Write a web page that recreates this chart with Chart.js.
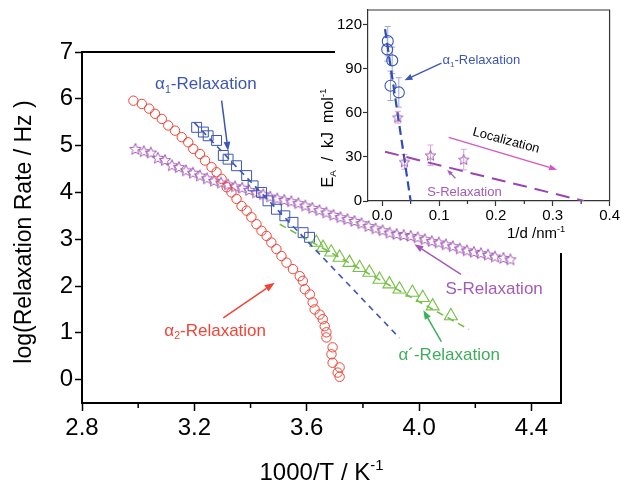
<!DOCTYPE html>
<html><head><meta charset="utf-8">
<script src="https://cdn.jsdelivr.net/npm/chart.js@4/dist/chart.umd.min.js"></script>
<style>
html,body{margin:0;padding:0;background:#fff;}
#wrap{position:relative;width:621px;height:484px;overflow:hidden;}
canvas{position:absolute;left:0;top:0;}
</style></head><body>
<div id="wrap"><canvas id="main" width="621" height="484" style="width:621px;height:484px"></canvas><canvas id="inset" width="621" height="253" style="width:621px;height:253px"></canvas></div>
<script>
// ---------------- main chart data ----------------
const mainXTicks = [2.8, 3.2, 3.6, 4.0, 4.4];
const mainXMinor = [3.0, 3.4, 3.8, 4.2];
const mainYTicks = [0, 1, 2, 3, 4, 5, 6, 7];

// alpha2-relaxation (red circles)
const alpha2X = [2.983,3.013,3.039,3.060,3.084,3.107,3.131,3.155,3.178,3.196,3.220,3.238,3.261,3.279,3.297,3.315,3.332,3.350,3.368,3.386,3.403,3.421,3.439,3.457,3.474,3.492,3.510,3.528,3.551,3.575,3.586,3.593,3.611,3.621,3.628,3.646,3.657,3.664,3.670,3.670,3.692,3.688,3.692,3.717,3.710,3.717];
const alpha2Y = [5.96,5.89,5.79,5.68,5.57,5.43,5.32,5.18,5.07,4.93,4.82,4.68,4.54,4.43,4.29,4.11,4.00,3.86,3.71,3.61,3.47,3.32,3.18,3.07,2.93,2.79,2.64,2.50,2.36,2.21,2.11,1.93,1.82,1.65,1.50,1.39,1.29,1.14,1.01,0.90,0.69,0.54,0.36,0.26,0.15,0.06];

// alpha1-relaxation (blue squares)
const alpha1X = [3.208,3.232,3.249,3.279,3.303,3.320,3.350,3.386,3.409,3.439,3.462,3.492,3.522,3.551,3.587,3.610];
const alpha1Y = [5.39,5.29,5.21,5.11,4.79,4.71,4.57,4.36,4.14,4.00,3.82,3.64,3.50,3.36,3.14,3.04];

// S-relaxation (purple stars)
const sRelaxX = [2.99,3.02,3.045,3.07,3.095,3.12,3.145,3.17,3.195,3.22,3.245,3.27,3.295,3.32,3.345,3.37,3.395,3.42,3.445,3.47,3.495,3.52,3.545,3.57,3.595,3.62,3.645,3.67,3.695,3.72,3.745,3.77,3.795,3.82,3.845,3.87,3.895,3.92,3.945,3.97,3.995,4.02,4.045,4.07,4.095,4.12,4.145,4.17,4.195,4.22,4.245,4.27,4.30,4.325];
const sRelaxY = [4.93,4.88,4.85,4.74,4.69,4.58,4.54,4.47,4.42,4.36,4.30,4.25,4.21,4.17,4.13,4.10,4.05,4.00,3.96,3.91,3.87,3.84,3.81,3.77,3.72,3.67,3.62,3.57,3.52,3.47,3.43,3.39,3.34,3.28,3.23,3.19,3.14,3.11,3.09,3.07,3.04,3.00,2.96,2.93,2.89,2.85,2.80,2.76,2.73,2.70,2.67,2.63,2.60,2.57];

// alpha'-relaxation (green triangles)
const alphaPX = [3.634,3.658,3.687,3.717,3.752,3.788,3.823,3.859,3.894,3.930,3.976,4.013,4.048,4.113];
const alphaPY = [2.93,2.82,2.72,2.61,2.50,2.39,2.29,2.14,2.04,1.93,1.86,1.75,1.57,1.36];

// fitted dashed lines
const alpha1FitX = [3.20, 3.93];
const alpha1FitY = [5.49, 0.89];
const alphaPFitX = [3.504, 4.178];
const alphaPFitY = [3.32, 1.07];

// ---------------- inset data ----------------
const insetXTicks = [0.0, 0.1, 0.2, 0.3, 0.4];
const insetXMinor = [0.05, 0.15, 0.25, 0.35];
const insetYTicks = [0, 30, 60, 90, 120];
const eaAlpha1D = [0.0098, 0.0088, 0.0176, 0.0146, 0.0292];
const eaAlpha1 = [108.8, 103.2, 95.7, 78.4, 73.9];
const eaAlpha1Err = [10, 8, 9, 10, 10];
const eaSD = [0.0274, 0.0392, 0.0849, 0.1434];
const eaS = [57.0, 26.6, 31.1, 28.2];
const eaSErr = [4, 5, 7, 7];
const eaAlpha1FitD = [0.005, 0.050];
const eaAlpha1FitE = [117, 0];
const eaSFitD = [0.005, 0.355];
const eaSFitE = [33.5, 0];

// ---------------- styling ----------------
const FONT = "'Liberation Sans', Arial, sans-serif";
const RED = '#ef4437', BLUE = '#3c56b4', PURPLE = '#a35ab6', GREEN = '#76c045', GREEN_T = '#3fae5c', MAGENTA = '#d456c2';

function xy(xs, ys){ return xs.map((x,i)=>({x:x, y:ys[i]})); }

function makeStar(size, color, lw, ratio){
  const c = document.createElement('canvas'); c.width = size; c.height = size;
  const g = c.getContext('2d');
  const R = size/2 - lw, r = R*ratio, cx = size/2, cy = size/2 + R*0.08;
  g.beginPath();
  for (let i=0;i<10;i++){ const a = -Math.PI/2 + i*Math.PI/5; const rr = (i%2)? r : R; g.lineTo(cx+rr*Math.cos(a), cy+rr*Math.sin(a)); }
  g.closePath(); g.strokeStyle = color; g.lineWidth = lw; g.lineJoin='miter'; g.stroke();
  return c;
}

function rich(ctx, parts, x, y, size, color, align){
  ctx.save(); ctx.fillStyle = color; ctx.textBaseline = 'alphabetic';
  let w = 0;
  const m = parts.map(p=>{ const fs = p.s ? size*0.62 : size; ctx.font = fs+'px '+FONT; const mw = ctx.measureText(p.t).width; w += mw; return {p:p, fs:fs, mw:mw}; });
  let cx = align === 'center' ? x - w/2 : (align === 'right' ? x - w : x);
  const base = y + size*0.36;
  m.forEach(q=>{ ctx.font = q.fs+'px '+FONT; let dy = 0; if (q.p.s==='sub') dy = size*0.22; if (q.p.s==='sup') dy = -size*0.40; ctx.fillText(q.p.t, cx, base+dy); cx += q.mw; });
  ctx.restore();
}

function arrow(ctx, x1, y1, x2, y2, color, w, head){
  ctx.save(); ctx.strokeStyle = color; ctx.fillStyle = color; ctx.lineWidth = w;
  const a = Math.atan2(y2-y1, x2-x1);
  const bx = x2 - head*Math.cos(a), by = y2 - head*Math.sin(a);
  ctx.beginPath(); ctx.moveTo(x1,y1); ctx.lineTo(bx,by); ctx.stroke();
  const hw = head*0.38;
  ctx.beginPath(); ctx.moveTo(x2,y2);
  ctx.lineTo(bx + hw*Math.sin(a), by - hw*Math.cos(a));
  ctx.lineTo(bx - hw*Math.sin(a), by + hw*Math.cos(a));
  ctx.closePath(); ctx.fill(); ctx.restore();
}

// ---------------- main chart ----------------
const mainPlugin = {
  id: 'mainDeco',
  afterDraw(chart){
    const ctx = chart.ctx, xs = chart.scales.x, ys = chart.scales.y, a = chart.chartArea;
    const X = v => xs.getPixelForValue(v), Y = v => ys.getPixelForValue(v);
    ctx.save();
    // partial frame (top and right, interrupted by inset)
    ctx.strokeStyle = '#000'; ctx.lineWidth = 2;
    ctx.beginPath(); ctx.moveTo(a.left-1, a.top); ctx.lineTo(335, a.top); ctx.stroke();
    ctx.beginPath(); ctx.moveTo(a.right, 253); ctx.lineTo(a.right, a.bottom+1); ctx.stroke();
    // minor ticks
    ctx.lineWidth = 1.5;
    mainXMinor.forEach(v=>{ ctx.beginPath(); ctx.moveTo(X(v), a.bottom); ctx.lineTo(X(v), a.bottom+5); ctx.stroke(); });
    ctx.restore();
    // axis titles
    rich(ctx, [{t:'1000/T / K'},{t:'-1', s:'sup'}], (a.left+a.right)/2, 471, 24, '#000', 'center');
    ctx.save(); ctx.translate(23, 232); ctx.rotate(-Math.PI/2);
    rich(ctx, [{t:'log(Relaxation Rate / Hz )'}], 0, 0, 23, '#000', 'center');
    ctx.restore();
    // annotations
    rich(ctx, [{t:'\u03B1'},{t:'1', s:'sub'},{t:'-Relaxation'}], X(3.241), Y(6.34), 17, BLUE, 'center');
    arrow(ctx, X(3.297), Y(5.96), X(3.320), Y(4.89), BLUE, 1.5, 9);
    rich(ctx, [{t:'S-Relaxation'}], X(4.267), Y(1.95), 17, PURPLE, 'center');
    arrow(ctx, X(4.149), Y(2.25), X(3.983), Y(2.893), PURPLE, 1.5, 9);
    rich(ctx, [{t:'\u03B1\u00B4-Relaxation'}], X(4.107), Y(0.54), 17, GREEN_T, 'center');
    arrow(ctx, X(4.079), Y(0.81), X(4.015), Y(1.48), GREEN_T, 1.5, 9);
    rich(ctx, [{t:'\u03B1'},{t:'2', s:'sub'},{t:'-Relaxation'}], X(3.274), Y(1.07), 17, RED, 'center');
    arrow(ctx, X(3.303), Y(1.32), X(3.486), Y(2.07), RED, 1.5, 10);
  }
};

const starMain = makeStar(14, PURPLE, 1, 0.45);
const starInset = makeStar(13, PURPLE, 1, 0.45);

new Chart(document.getElementById('main'), {
  type: 'scatter',
  data: { datasets: [
    { data: xy(alpha1FitX, alpha1FitY), showLine:true, borderColor:BLUE, borderWidth:1.6, borderDash:[6,5], pointRadius:0, fill:false },
    { data: xy(alphaPFitX, alphaPFitY), showLine:true, borderColor:GREEN, borderWidth:1.6, borderDash:[7,5], pointRadius:0, fill:false },
    { data: xy(alpha2X, alpha2Y), pointStyle:'circle', pointRadius:4.7, borderColor:RED, backgroundColor:'rgba(0,0,0,0)', borderWidth:1 },
    { data: xy(alpha1X, alpha1Y), pointStyle:'rect', pointRadius:7, borderColor:BLUE, backgroundColor:'rgba(0,0,0,0)', borderWidth:1 },
    { data: xy(sRelaxX, sRelaxY), pointStyle:starMain, pointRadius:6, borderColor:PURPLE, backgroundColor:'rgba(0,0,0,0)' },
    { data: xy(alphaPX, alphaPY), pointStyle:'triangle', pointRadius:7.5, borderColor:GREEN, backgroundColor:'rgba(0,0,0,0)', borderWidth:1.1 }
  ]},
  options: {
    responsive:false, animation:false, devicePixelRatio:1, events:[],
    layout:{ padding:{ left:0, top:52, right:60, bottom:0 } },
    plugins:{ legend:{display:false}, tooltip:{enabled:false} },
    scales:{
      x:{ type:'linear', min:2.8, max:4.505,
        afterFit(s){ s.height = 81; },
        afterBuildTicks(s){ s.ticks = mainXTicks.map(v=>({value:v})); },
        ticks:{ font:{size:24, family:FONT}, color:'#000', padding:3, maxRotation:0, autoSkip:false, callback:v=>Number(v).toFixed(1) },
        grid:{ drawOnChartArea:false, drawTicks:true, tickLength:8, tickColor:'#000', tickWidth:1.5 },
        border:{ display:true, color:'#000', width:2 } },
      y:{ type:'linear', min:-0.5, max:7,
        afterFit(s){ s.width = 82; },
        afterBuildTicks(s){ s.ticks = mainYTicks.map(v=>({value:v})); },
        ticks:{ font:{size:24, family:FONT}, color:'#000', padding:2, autoSkip:false, callback:v=>String(v) },
        grid:{ drawOnChartArea:false, drawTicks:true, tickLength:7, tickColor:'#000', tickWidth:1.5 },
        border:{ display:true, color:'#000', width:2 } }
    }
  },
  plugins:[mainPlugin]
});

// ---------------- inset chart ----------------
const insetPlugin = {
  id: 'insetDeco',
  beforeDatasetsDraw(chart){
    const ctx = chart.ctx, xs = chart.scales.x, ys = chart.scales.y;
    const X = v => xs.getPixelForValue(v), Y = v => ys.getPixelForValue(v);
    ctx.save(); ctx.lineWidth = 1;
    const bars = (dx, ey, er, col) => { ctx.strokeStyle = col; dx.forEach((d,i)=>{ const px = X(d), t = Y(ey[i]+er[i]), b = Y(ey[i]-er[i]);
      ctx.beginPath(); ctx.moveTo(px,t); ctx.lineTo(px,b); ctx.moveTo(px-3,t); ctx.lineTo(px+3,t); ctx.moveTo(px-3,b); ctx.lineTo(px+3,b); ctx.stroke(); }); };
    bars(eaAlpha1D, eaAlpha1, eaAlpha1Err, '#9ea8d8');
    bars(eaSD, eaS, eaSErr, '#d7a6d6');
    ctx.restore();
  },
  afterDraw(chart){
    const ctx = chart.ctx, xs = chart.scales.x, ys = chart.scales.y, a = chart.chartArea;
    const X = v => xs.getPixelForValue(v), Y = v => ys.getPixelForValue(v);
    ctx.save(); ctx.strokeStyle = '#333'; ctx.lineWidth = 1.2;
    ctx.beginPath(); ctx.moveTo(a.left, a.top); ctx.lineTo(a.right, a.top); ctx.lineTo(a.right, a.bottom); ctx.stroke();
    insetXMinor.forEach(v=>{ ctx.beginPath(); ctx.moveTo(X(v), a.bottom); ctx.lineTo(X(v), a.bottom+3); ctx.stroke(); });
    ctx.restore();
    // titles
    rich(ctx, [{t:'1/d /nm'},{t:'-1', s:'sup'}], 507, 233, 15, '#000', 'left');
    ctx.save(); ctx.translate(327, 138); ctx.rotate(-Math.PI/2);
    rich(ctx, [{t:'E'},{t:'A', s:'sub'},{t:'  /  kJ  mol'},{t:'-1', s:'sup'}], 0, 0, 16, '#000', 'center');
    ctx.restore();
    // annotations
    rich(ctx, [{t:'\u03B1'},{t:'1', s:'sub'},{t:'-Relaxation'}], X(0.1745), Y(96.3), 13, BLUE, 'center');
    arrow(ctx, X(0.1042), Y(93.8), X(0.0392), Y(82.2), BLUE, 1.3, 8);
    ctx.save(); ctx.translate(X(0.2185), Y(41.8)); ctx.rotate(15*Math.PI/180);
    rich(ctx, [{t:'Localization'}], 0, 0, 13, '#000', 'center');
    ctx.restore();
    arrow(ctx, X(0.117), Y(43.3), X(0.3076), Y(21.3), MAGENTA, 1.2, 8);
    rich(ctx, [{t:'S-Relaxation'}], X(0.1446), Y(6.7), 13, PURPLE, 'center');
    arrow(ctx, X(0.1288), Y(15.5), X(0.1142), Y(21.3), PURPLE, 1.2, 6);
  }
};

new Chart(document.getElementById('inset'), {
  type: 'scatter',
  data: { datasets: [
    { data: xy(eaSFitD, eaSFitE), showLine:true, borderColor:'#9a44b2', borderWidth:2, borderDash:[14,8], pointRadius:0, fill:false },
    { data: xy(eaAlpha1D, eaAlpha1), pointStyle:'circle', pointRadius:5.5, borderColor:BLUE, backgroundColor:'rgba(255,255,255,0)', borderWidth:1.1 },
    { data: xy(eaSD, eaS), pointStyle:starInset, pointRadius:6, borderColor:PURPLE },
    { data: xy(eaAlpha1FitD, eaAlpha1FitE), showLine:true, borderColor:'#2c4db8', borderWidth:2.2, borderDash:[9,5], pointRadius:0, fill:false }
  ]},
  options: {
    responsive:false, animation:false, devicePixelRatio:1, events:[],
    layout:{ padding:{ left:300, top:8, right:10, bottom:0 } },
    plugins:{ legend:{display:false}, tooltip:{enabled:false} },
    scales:{
      x:{ type:'linear', min:-0.025, max:0.4,
        afterFit(s){ s.height = 52; },
        afterBuildTicks(s){ s.ticks = insetXTicks.map(v=>({value:v})); },
        ticks:{ font:{size:15, family:FONT}, color:'#000', padding:1, maxRotation:0, autoSkip:false, callback:v=>Number(v).toFixed(1) },
        grid:{ drawOnChartArea:false, drawTicks:true, tickLength:5, tickColor:'#333', tickWidth:1.2 },
        border:{ display:true, color:'#333', width:1.2 } },
      y:{ type:'linear', min:0, max:130,
        afterFit(s){ s.width = 68; },
        afterBuildTicks(s){ s.ticks = insetYTicks.map(v=>({value:v})); },
        ticks:{ font:{size:15, family:FONT}, color:'#000', padding:1, autoSkip:false, callback:v=>String(v) },
        grid:{ drawOnChartArea:false, drawTicks:true, tickLength:5, tickColor:'#333', tickWidth:1.2 },
        border:{ display:true, color:'#333', width:1.2 } }
    }
  },
  plugins:[insetPlugin]
});
</script>
</body></html>
